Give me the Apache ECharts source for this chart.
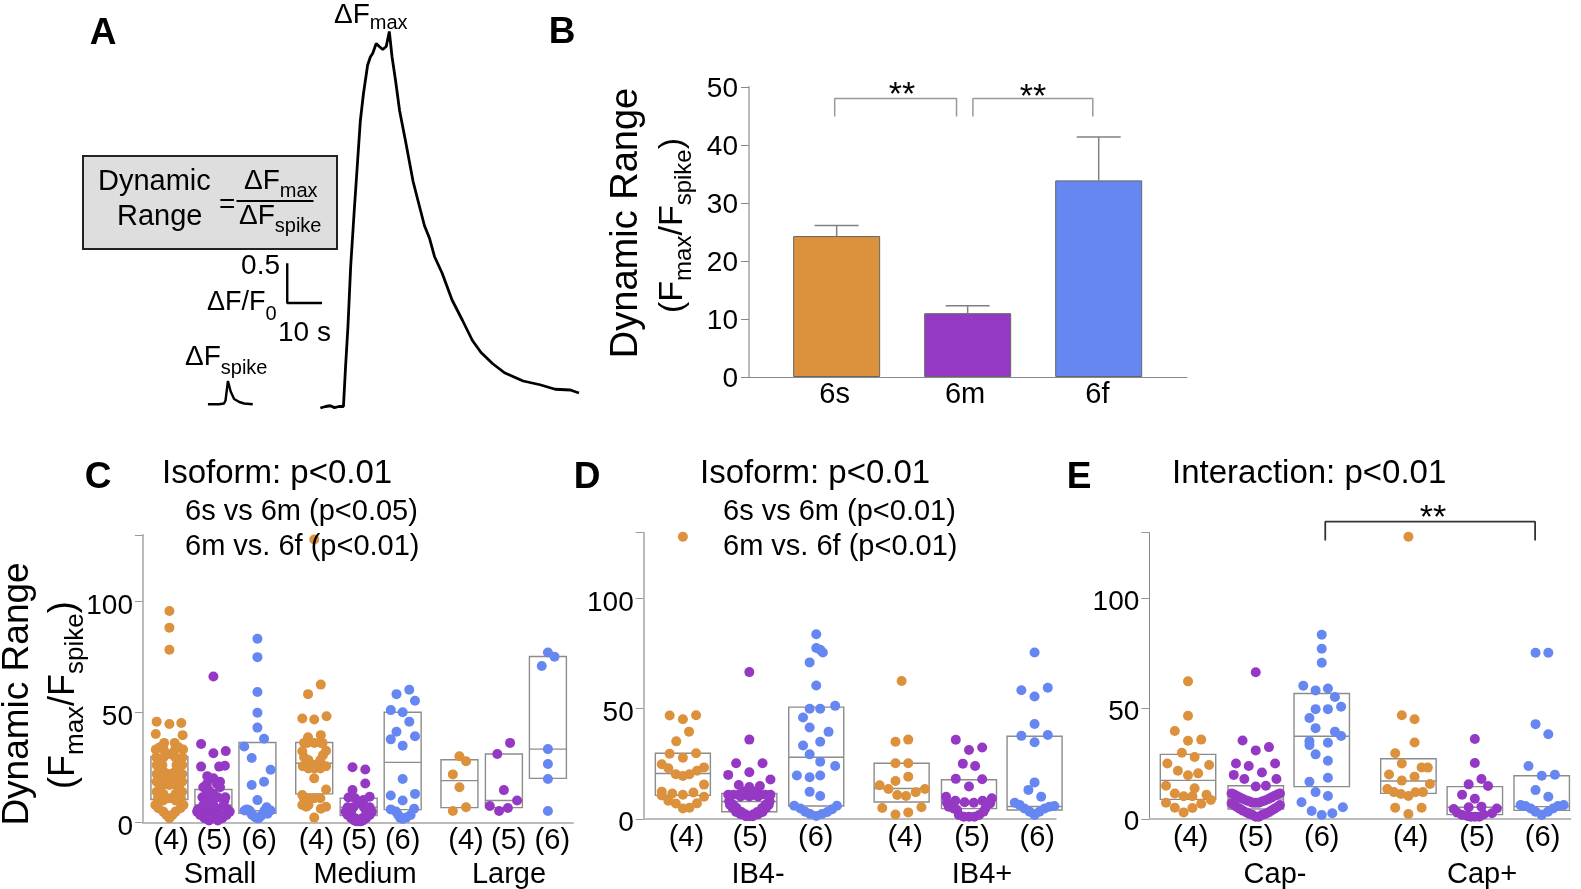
<!DOCTYPE html>
<html><head><meta charset="utf-8">
<style>html,body{margin:0;padding:0;background:#fff}#c{width:1581px;height:889px}</style>
<script src="https://cdn.jsdelivr.net/npm/echarts@6/dist/echarts.min.js"></script>
</head><body><div id="c"></div>
<script>
// ---------- Panel A: traces (time s, dF/F0)
const traceMax = [[32.3,0],[33.8,.02],[35.2,.03],[36.4,.005],[37.7,.02],[39,.02],[39.6,.54],[40.3,1.08],[41.1,1.89],[42.1,2.61],[43.1,3.29],[43.9,3.83],[44.8,4.19],[46,4.57],[46.8,4.68],[47.5,4.73],[48.5,4.86],[49.4,4.82],[50.4,4.78],[51.4,4.82],[52.3,5.02],[53.1,4.68],[54.1,4.37],[55.3,3.96],[57,3.56],[59.2,3.02],[60.7,2.75],[62.5,2.43],[63.9,2.27],[65.4,2.02],[67.6,1.8],[70.5,1.44],[73.5,1.17],[76.4,.9],[78.9,.74],[82.3,.59],[85.7,.47],[91.1,.36],[96,.31],[100.4,.25],[104.8,.24],[107.3,.2]];
const traceSpike = [[-.3,.05],[2.9,.05],[4.35,.06],[4.8,.1],[5.5,.36],[6.3,.22],[7.3,.12],[8.8,.08],[10.2,.06],[12.7,.05]];
const scaleBar = [[22.7,1.93],[22.7,1.4],[32.8,1.4]];
// ---------- Panel B
const barNames = ['6s','6m','6f'];
const barMeans = [24.3,11,33.9];
const barTops = [26.1,12.3,41.4];
const barLabelAt = [-.015,.98,1.99];
const bracketB1 = [[-.015,44.9],[-.015,48],[.915,48],[.915,44.9]];
const bracketB2 = [[1.04,44.9],[1.04,48],[1.955,48],[1.955,44.9]];
// ---------- Swarm rows: [value, offsets...]
const cS6s=[[95.5,0],[88,0],[78,0],[45.6,-2.9],[44.5,0],[45,2.7],[40,-3.1],[39.5,3],[36,-1.2,1.2],[34,-2.2,2.1],[33,-3.1,-1.3,1.3,3.1],[31,0],[29.5,-3,-1.3,1.3,3],[28,-2.2,2.2],[26,-2.9,-1.6,1.6,2.9],[24.5,-2.1,2.1],[23,-1.3,1.3],[22,-2.9,0,2.9],[20.5,-2,2],[19,-.8,.8],[18.5,-2.9,2.9],[17,-1.4,0,1.4],[15.5,-2.2,2.2],[14,-2.9,2.9],[13,-1.4,1.4],[11,-2.6,0,2.6],[10,-1.4,1.4],[8,-3.2,3.2],[6.5,-2.5,2.5],[5,-1.4,1.4],[3.5,-.7,.7],[2,0]];
const cS6m=[[66,0],[35.5,-2.8],[31.3,0],[32.3,2.8],[25.3,-2.8],[25.3,1.3],[25.7,2.6],[21,-1.4],[20,0],[18.5,1.5],[17.5,-1.5,.8],[16,-2.3,1.5],[14.5,-1],[13,-1.5,0],[11.5,-2.5,1,2.7],[10,-1,2.5],[8,-2.3,0,2.3],[6,-3.5,-2,-.5,1,3.2],[5,-3.7,3.7],[3.5,-3,-1.5,0,1.5,3],[2,-2,-.7,.7,2],[1,-1,1]];
const cS6f=[[83,0],[74.7,0],[59,0],[49.6,0],[42.9,0],[37.9,1.5],[34.4,-3],[29.2,-1.3],[23.9,3],[18.5,1.5],[17,-1.3],[10.2,0],[7,2.1],[6,-2.4],[5.5,-2.9,-1.8,1.6,3],[4.5,-1.5],[4,1.4,2.3],[3.5,-1.2],[3,.8],[2.5,-.5],[2,0,.3]];
const cM6s=[[127.8,0],[62.3,1.5],[58,-1.4],[48,2.8],[47,-2.7],[46.6,0],[39.5,1.5],[38.5,-1.4],[36,-2.3,-1.6,0,1.5,1.9],[32.5,2.7],[32.2,-2.7],[30.5,2],[29.5,-2.3],[28.3,-1.3,1.4],[26.5,-.8,.8],[25.5,-2.6,2.7],[24.5,-1.3,0,1.4],[20,0],[15,2.7],[12.5,-2.7],[11,-2.3,-1.3,0,1.4],[8,-2.7,-1.3],[7.2,-1.8,2.7],[6.3,1.5],[2.3,0]];
const cM6m=[[25,-1.4],[24,1.5],[17.7,1.5],[14.7,-1.4],[11.7,2.5],[11.4,-2.3],[11,-.8],[10.2,1.1],[8.7,0],[7,-2.5,-1.2,1.2,2.5],[5,-3,-1.7,1.7,3],[3.5,-2.5,2.5],[2,-1.7,-.8,.8,1.7],[1,-1,0,1],[.6,-.4,.4]];
const cM6f=[[60,1.5],[58,-1.4],[55,2.8],[50.8,-2.7],[49.8,0],[45.6,1.5],[41,-1.4],[39,2.8],[37.6,-2.7],[34.7,0],[19.7,0],[13,2.8],[12.3,-2.7],[10,0],[6.3,2.6],[6,-2.7],[5,-1.5],[3.5,-1,1.8],[2.3,-.6,.8],[1.7,0]];
const cL6s=[[30,0],[27.7,1.5],[21.8,-1.5],[16,0],[7,1.5],[5.3,-1.5]];
const cL6m=[[36,1.4],[31,-1.5],[14.7,0],[10,3],[7.5,-3.2],[6.6,.9],[5.3,-1.1]];
const cL6f=[[76.8,0],[74.9,1.5],[70.7,-1.4],[33.2,0],[26.5,0],[19.7,0],[5.3,0]];
const dN6s=[[128,0],[46.9,-3],[45.2,0],[47,3],[39.6,1.4],[35.2,-1.5],[29.6,-3],[29.8,3],[27.8,0],[24.8,-4.8],[23.4,4.8],[23,-3.3],[21.9,3.2],[20.3,-1.6,1.5],[19.5,0],[15.6,4.8],[12.4,-4.8],[11.6,-2.4],[12,2.4],[11,0],[10.7,-4.8],[10.1,4.8],[8.3,-3.3],[7.1,3.2],[7,-1.6],[4.8,0],[5.1,1.5]];
const dN6m=[[66.6,0],[36,0],[25.3,-3,3],[21.2,0],[20,-4.8],[17.9,4.8],[15.4,-2.4],[14.5,0],[15,2.4],[12.5,-1.2,1.2],[11,-4.8,-3.6,-2.4,-1,1,2.4,3.6,4.8],[10.2,-2,0,2],[8,-4.6,4.6],[6.5,-4.4,-3.7,3.7,4.4],[5,-3.8,-2.9,2.9,3.8],[3.2,-3,-1.8,1.8,3],[2.2,-2,-1,1,2],[1.3,-.8,0,.8]];
const dN6f=[[83.8,0],[77.5,0],[76.7,.9],[75.5,1.5],[71,-1.5],[60.5,0],[51.3,4.3],[50,-1.5,.9],[46,-3],[41.5,-1.5],[39.5,2.8],[35,.9],[33.3,-3],[29.3,-1.5],[26,.9],[24,4.3],[19.7,-4.4,.9],[18.9,-1.5],[12.3,-1.5],[10.4,.9],[6,-5,4.7],[4.8,-3.6],[4.4,3.6],[3.3,-2.5],[3.2,2.5],[2.3,-1.4,1.3],[1.4,0]];
const dP6s=[[62.6,0],[35,-1.4],[36,1.5],[25.3,-1.4,1.5],[19.2,1.5],[17.2,-1.4],[15.3,-5],[13.6,-3,5.3],[12.1,3.2],[10.9,-1],[10.4,1],[5,-4.4],[5.3,4.5],[3,1.5],[2,-1.4]];
const dP6m=[[35.9,-3],[32.4,3],[31.3,0],[25.1,-1.4],[24,1.4],[18.2,-3],[18,3],[14.7,0],[10.1,-5.2],[9.4,5.2],[8.3,-3.1,3.1],[7.6,-1],[7.4,1.1,-5],[7.1,4.8],[5.6,-4.6],[4.8,-3.5,3.7],[4.1,-2.7],[3.3,3.3],[1.8,-2.3,2.3],[1,-1.2,0,1.2]];
const dP6f=[[75.5,0],[58.4,-3],[59.5,3],[55.5,0],[43.1,0],[37.7,-3],[38.1,3],[34.8,0],[16.6,0],[13.2,-1.4],[10.1,1.5],[7.4,-4.5],[6.4,-3.4],[4.8,-2.3,2.3],[3.3,-1.1,1.1],[1.8,0],[5.6,3.4],[5.9,4.5]];
const eN6s=[[62.4,0],[46.8,0],[39.9,-3],[35.5,0],[36,3],[30,-1.4],[28.1,1.5],[25.2,-4.7],[24.5,4.8],[21.9,-2.3],[20.7,2.3],[19.8,0],[15.1,-5],[13.9,1.5],[11.6,-3],[11,4.2],[10.3,-1,1],[8.6,5.2],[7.4,-5],[6.9,3],[5.1,-3],[5,1],[3,-1]];
const eN6m=[[66.5,0],[35.6,-3],[32.6,3],[31.1,0],[25.2,-4.5,4.4],[24,-1.6],[20,-5],[18.1,-2.6,4.7],[21.1,1.4],[14.7,0],[15.1,2.3],[11.6,-5.5,5.5],[11.1,-4.9,4.9],[10.4,-4.3,4.2],[9.7,-3.6,3.5],[9.1,-2.9,2.9],[8.4,-2.1,2.1],[7.9,-1.4,1.4],[7.4,-.7,0,.7],[7.1,-5.5],[6.3,5.5,-4.9],[5.4,4.9,-4.3],[4.6,-3.6,4.2],[3.7,-2.9,3.5],[3,-2.1,2.9],[2.3,-1.4,2.1],[1.8,-.7,1.4],[1,0,.7]];
const eN6f=[[83.5,0],[77.2,0],[70.8,0],[60.4,-4.2],[58.3,-1.4],[59.2,1.4],[55.3,3],[50.9,4.4],[49.8,-1.4,1.4],[45.8,-2.8],[41.2,-1.4],[39.6,3],[37.6,4.4],[35.3,-2.8],[33.5,-2.8],[34.6,1.4],[29.3,-1.4],[26.4,1.4],[18.7,1.4],[16.9,-2.8],[12.2,-1.4],[10.4,1.4],[7.6,-4.6],[5.3,4.8],[3.6,-2.3],[2.6,2.4],[1.8,0]];
const eP6s=[[128,0],[47,-1.5],[45.2,1.4],[34.7,1.4],[29.8,-3],[25.2,-1.5],[23.4,3],[23.3,4.4],[20.2,-4.4],[19.2,1.4],[17.4,-1.5],[15.9,4.9],[13.6,-4.8],[12.2,-3.3,3.3],[11.3,-1.7],[10.4,0],[12.1,1.6],[5.1,-3,3],[2.3,0]];
const eP6m=[[36.3,0],[25.4,0],[18.1,1.5],[15.7,-1.4],[15,3],[11,-2.9],[9.2,0],[5.3,-1.4],[5.6,1.5],[4.5,-4.8],[4.8,5],[2.9,-4],[1.8,-2.9],[1.4,-1.7],[1,0,-.9,1],[2,2],[2.6,3.9]];
const eP6f=[[75.4,-1.4,1.5],[43,-1.4],[38.4,1.5],[24,-3],[19.6,0],[20.1,3],[13.1,-1.4],[10.1,1.5],[6.3,-4.8,5],[5.9,-3.7,3.7],[4.8,-2.5,2.6],[3.3,-1.4,1.4],[1.8,0]];
// ---------- Boxes: [q1, median, q3]
const cBoxes=[[10.5,19,29.8],[6.5,8,15],[4.2,5.4,36.2],[13,26.8,36.2],[3.2,7,11],[5.9,27.2,49.8],[6.8,19,28.4],[6.8,10,31],[20,33.2,75]];
const dBoxes=[[10.7,20.6,29.8],[3.3,7.9,11.6],[5.9,28,50.7],[7.7,13.8,25.3],[4.7,7.9,17.8],[4.1,5.7,37.5]];
const eBoxes=[[8.9,17.5,29.3],[4.5,9,15.1],[14.7,37.5,56.9],[11.6,17.2,27.3],[2,5.3,14.7],[3.9,5.6,19.6]];
// group positions along each swarm axis, ordered (4),(5),(6)
const cCenters=[6,16,26,38.9,49,59,71.9,82,92];
const dCenters=[8.9,24,39.2,58.6,73.9,88.8];
const eCenters=[8.8,24.2,39.2,58.9,74,89.2];
const isoLabels=['(4)','(5)','(6)'];
const yTicks=[0,50,100];

const C6S='#DC913C',C6M='#9539C4',C6F='#6687F2';
const FONT='"Liberation Sans",Arial,sans-serif';
const gridDefs=[
 {left:200,top:8,width:400,height:404},
 {left:749,top:87,width:438,height:290},
 {left:143,top:535,width:430,height:287.7},
 {left:643.7,top:532.7,width:412,height:286.3},
 {left:1149.3,top:532.7,width:421,height:286.3}];
const xAxes=[],yAxes=[],series=[];
xAxes.push({gridIndex:0,type:'value',min:-2.6,max:113.4,show:false});
yAxes.push({gridIndex:0,type:'value',min:-.0533,max:5.333,show:false});
const pathLine=(g,data,color,w)=>({type:'line',xAxisIndex:g,yAxisIndex:g,data,symbol:'none',clip:false,silent:true,lineStyle:{color,width:w},z:3});
series.push(pathLine(0,traceMax,'#000',2.8),pathLine(0,traceSpike,'#000',2.4),pathLine(0,scaleBar,'#000',2.4));

// Panel B
xAxes.push({gridIndex:1,type:'value',min:-.669,max:2.674,
  axisLine:{show:true,onZero:false,lineStyle:{color:'#888',width:1}},axisTick:{show:false},splitLine:{show:false},
  axisLabel:{customValues:barLabelAt,formatter:v=>barNames[Math.round(v)],color:'#000',fontSize:29,fontFamily:FONT,margin:3}});
yAxes.push({gridIndex:1,type:'value',min:0,max:50,interval:10,
  axisLine:{show:true,onZero:false,lineStyle:{color:'#bbb',width:2}},axisTick:{show:true,length:8,lineStyle:{color:'#888',width:1}},splitLine:{show:false},
  axisLabel:{color:'#000',fontSize:28,fontFamily:FONT,margin:11,verticalAlign:'top',lineHeight:5}});
const colors3=[C6S,C6M,C6F];
series.push({type:'bar',xAxisIndex:1,yAxisIndex:1,barWidth:87,animation:false,
  data:barMeans.map((v,i)=>({value:[i,v],itemStyle:{color:colors3[i],borderColor:'#666',borderWidth:1}})),z:2});
series.push({type:'custom',xAxisIndex:1,yAxisIndex:1,z:1,data:barMeans.map((v,i)=>[i,v,barTops[i]]),
  renderItem:(p,api)=>{const a=api.coord([api.value(0),api.value(1)]),b=api.coord([api.value(0),api.value(2)]);
    const st={stroke:'#808080',lineWidth:1.5,fill:null};
    return {type:'group',children:[{type:'line',shape:{x1:a[0],y1:a[1],x2:b[0],y2:b[1]},style:st},{type:'line',shape:{x1:b[0]-22,y1:b[1],x2:b[0]+22,y2:b[1]},style:st}]};}});
series.push(pathLine(1,bracketB1,'#999',1.5),pathLine(1,bracketB2,'#999',1.5));

// Swarm panels
function swarmPanel(g,centers,groups,boxes,boxW,labelShift,xMax,yLine,labelDrop){
  const labelMap={};const vals=centers.map((c,i)=>{const x=+(c+labelShift[i]).toFixed(2);labelMap[x]=isoLabels[i%3];return x;});
  xAxes.push({gridIndex:g,type:'value',min:0,max:xMax,
    axisLine:{show:true,onZero:false,lineStyle:{color:'#bbb',width:2}},axisTick:{show:false},splitLine:{show:false},
    axisLabel:{customValues:vals,formatter:v=>labelMap[+(+v).toFixed(2)]||'',color:'#000',fontSize:29,fontFamily:FONT,margin:4}});
  yAxes.push({gridIndex:g,type:'value',min:0,max:129.8,interval:50,
    axisLine:{show:true,onZero:false,lineStyle:yLine},axisTick:{show:true,length:8,lineStyle:{color:'#999',width:1}},splitLine:{show:false},
    axisLabel:{customValues:yTicks,color:'#000',fontSize:28,fontFamily:FONT,margin:10,verticalAlign:'top',lineHeight:labelDrop}});
  series.push({type:'custom',xAxisIndex:g,yAxisIndex:g,z:1,data:boxes.map((b,i)=>[centers[i],b[0],b[1],b[2]]),
    renderItem:(p,api)=>{const cx=api.value(0);const l=api.coord([cx,api.value(1)]),m=api.coord([cx,api.value(2)]),h=api.coord([cx,api.value(3)]);
      const w=api.size([boxW,0])[0]/2;const st={stroke:'#8c8c8c',lineWidth:1.4,fill:null};
      return {type:'group',children:[{type:'rect',shape:{x:l[0]-w,y:h[1],width:2*w,height:l[1]-h[1]},style:st},{type:'line',shape:{x1:l[0]-w,y1:m[1],x2:l[0]+w,y2:m[1]},style:st}]};}});
  groups.forEach((rows,i)=>{
    const color=[C6S,C6M,C6F][i%3];
    series.push({type:'scatter',xAxisIndex:g,yAxisIndex:g,symbolSize:10,z:3,silent:true,itemStyle:{color,opacity:1},
      data:rows.flatMap(([v,...os])=>os.map(o=>[centers[i]+o,v]))});
  });
}
swarmPanel(2,cCenters,[cS6s,cS6m,cS6f,cM6s,cM6m,cM6f,cL6s,cL6m,cL6f],cBoxes,8.4,[.4,.2,.4,.5,.1,0,1.5,1.1,1],97.7,{color:'#bbb',width:2},10);
swarmPanel(3,dCenters,[dN6s,dN6m,dN6f,dP6s,dP6m,dP6f],dBoxes,12.5,[.8,.2,-.1,.8,.7,.6],93.6,{color:'#bbb',width:2},9);
swarmPanel(4,eCenters,[eN6s,eN6m,eN6f,eP6s,eP6m,eP6f],eBoxes,12.6,[.6,0,0,.5,.5,.2],95.7,{color:'#888',width:1},7);
const bracketE=[[40,126.3],[40,134.8],[87.7,134.8],[87.7,126.3]];
series.push(pathLine(4,bracketE,'#333',1.8));

// ---------- Text helpers
const meas=document.createElement('canvas').getContext('2d');
const els=[];
function txt(x,y,t,size,o={}){els.push({type:'text',z:100,x,y,rotation:o.rot||0,silent:true,style:{text:t,fill:'#000',font:(o.bold?'bold ':'')+size+'px '+FONT,textAlign:o.align||'left',textVerticalAlign:'middle',textBaseline:'middle'}});}
function seq(x,y,parts,rot){ // parts: [text,size,shift]; rot=true runs bottom-to-top
  let p=rot?y:x;
  parts.forEach(([t,s,sh])=>{meas.font=s+'px "Liberation Sans"';const w=meas.measureText(t).width;
    if(rot)txt(x+(sh||0),p,t,s,{rot:Math.PI/2});else txt(p,y+(sh||0),t,s);
    p+=rot?-w:w;});
}
// box
els.push({type:'rect',z:5,silent:true,shape:{x:83,y:156,width:254,height:93},style:{fill:'#dedede',stroke:'#222',lineWidth:2}});
els.push({type:'rect',z:101,silent:true,shape:{x:236.5,y:200,width:77,height:2},style:{fill:'#000'}});
txt(103,34,'A',37,{bold:true,align:'center'});txt(562,33,'B',37,{bold:true,align:'center'});
txt(98,478,'C',37,{bold:true,align:'center'});txt(587,478,'D',37,{bold:true,align:'center'});txt(1079,478,'E',37,{bold:true,align:'center'});
seq(334,15.5,[['ΔF',28],['max',20,8]]);
txt(98,182,'Dynamic',29);txt(117,217,'Range',29);txt(219,205,'=',28);
seq(244,181,[['ΔF',28],['max',20,10]]);
seq(239,216,[['ΔF',28],['spike',20,10]]);
txt(280,266,'0.5',28,{align:'right'});
seq(207,303,[['ΔF/F',27],['0',20,11]]);
txt(278,333,'10 s',28);
seq(185,357,[['ΔF',28],['spike',20,11]]);
// stars
txt(902,96,'**',34,{align:'center'});txt(1033,98,'**',34,{align:'center'});txt(1433,519,'**',34,{align:'center'});
// y titles
txt(627,223,'Dynamic Range',38,{rot:Math.PI/2,align:'center'});
seq(673,313,[['(',34],['F',34],['max',24,11],['/',34],['F',34],['spike',24,11],[')',34]],true);
txt(18,694,'Dynamic Range',37,{rot:Math.PI/2,align:'center'});
seq(64,789,[['(',36],['F',36],['max',26,12],['/',36],['F',36],['spike',26,12],[')',36]],true);
// panel titles
txt(162,474,'Isoform: p<0.01',33);txt(185,512,'6s vs 6m (p<0.05)',29);txt(185,547,'6m vs. 6f (p<0.01)',29);
txt(700,474,'Isoform: p<0.01',33);txt(723,512,'6s vs 6m (p<0.01)',29);txt(723,547,'6m vs. 6f (p<0.01)',29);
txt(1172,474,'Interaction: p<0.01',33);
// group names
[['Small',220],['Medium',365],['Large',509],['IB4-',758],['IB4+',982],['Cap-',1275],['Cap+',1482]].forEach(([t,x])=>txt(x,875,t,29,{align:'center'}));

const chart=echarts.init(document.getElementById('c'),null,{renderer:'canvas'});
chart.setOption({animation:false,backgroundColor:'#fff',grid:gridDefs,xAxis:xAxes,yAxis:yAxes,series,graphic:{elements:els}});
</script></body></html>
